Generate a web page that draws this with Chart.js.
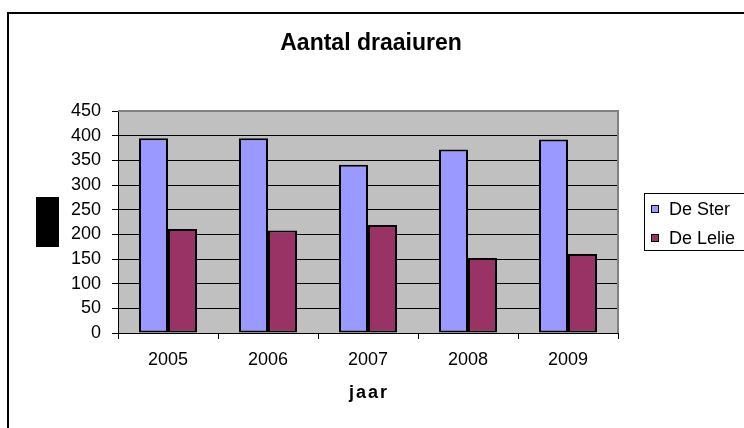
<!DOCTYPE html>
<html><head><meta charset="utf-8">
<script src="https://cdn.jsdelivr.net/npm/chart.js@4/dist/chart.umd.min.js"></script>
<style>html,body{margin:0;padding:0;background:#fff;}canvas{display:block;}</style>
</head><body>
<canvas id="c" width="744" height="428"></canvas>
<script>
const categories = ['2005', '2006', '2007', '2008', '2009'];
const deSter = [395, 395, 341, 372, 392];
const deLelie = [211, 208, 219, 152, 160];
const seriesNames = ['De Ster', 'De Lelie'];
const seriesColors = ['#9999FF', '#993366'];
const chartTitle = 'Aantal draaiuren';
const xTitle = 'jaar';
const yMin = 0, yMax = 450, yStep = 50;

const FONT = '"Liberation Sans", Arial, sans-serif';

const decor = {
  id: 'decor',
  beforeDraw(chart) {
    const {ctx, chartArea: a} = chart;
    ctx.save();
    ctx.fillStyle = '#fff';
    ctx.fillRect(0, 0, chart.width, chart.height);
    ctx.strokeStyle = '#000';
    ctx.lineWidth = 2;
    ctx.beginPath();
    ctx.moveTo(8, 440); ctx.lineTo(8, 13); ctx.lineTo(760, 13);
    ctx.stroke();
    ctx.fillStyle = '#C0C0C0';
    ctx.fillRect(a.left, a.top, a.right - a.left, a.bottom - a.top);
    ctx.restore();
  },
  afterDraw(chart) {
    const {ctx, chartArea: a} = chart;
    ctx.save();
    ctx.strokeStyle = '#808080';
    ctx.lineWidth = 2;
    ctx.beginPath();
    ctx.moveTo(a.left, a.top); ctx.lineTo(a.right, a.top); ctx.lineTo(a.right, a.bottom);
    ctx.stroke();
    // chart title
    ctx.fillStyle = '#000';
    ctx.font = 'bold 23px ' + FONT;
    ctx.textAlign = 'center';
    ctx.textBaseline = 'middle';
    ctx.fillText(chartTitle, (a.left + a.right) / 2 + 3, 44);
    // x-axis title (letter-spaced)
    ctx.font = 'bold 18px ' + FONT;
    if ('letterSpacing' in ctx) ctx.letterSpacing = '2px';
    ctx.fillText(xTitle, (a.left + a.right) / 2 + 1, 393);
    if ('letterSpacing' in ctx) ctx.letterSpacing = '0px';
    // redaction block (y-axis title area)
    ctx.fillRect(36, 197, 23, 50);
    // legend
    ctx.lineWidth = 1;
    ctx.strokeStyle = '#000';
    ctx.strokeRect(644.5, 193.5, 120, 57);
    ctx.font = '18px ' + FONT;
    ctx.textAlign = 'left';
    chart.data.datasets.forEach((ds, i) => {
      const y = 209 + i * 29;
      ctx.fillStyle = ds.backgroundColor;
      ctx.fillRect(651.5, y - 3.5, 7, 7);
      ctx.strokeRect(651.5, y - 3.5, 7, 7);
      ctx.fillStyle = '#000';
      ctx.fillText(ds.label, 669, y + 1);
    });
    ctx.restore();
  }
};

new Chart(document.getElementById('c'), {
  type: 'bar',
  data: {
    labels: categories,
    datasets: [
      {label: seriesNames[0], data: deSter, backgroundColor: seriesColors[0]},
      {label: seriesNames[1], data: deLelie, backgroundColor: seriesColors[1]}
    ]
  },
  options: {
    responsive: false,
    animation: false,
    layout: {padding: {left: 0, right: 126, top: 111, bottom: 25}},
    datasets: {bar: {barPercentage: 1, categoryPercentage: 0.58, borderColor: '#000', borderWidth: 2, borderSkipped: false}},
    plugins: {legend: {display: false}, title: {display: false}, tooltip: {enabled: false}},
    scales: {
      x: {
        afterFit(s) { s.height = 70; },
        grid: {offset: true, drawOnChartArea: false, drawTicks: true, tickLength: 6, tickColor: '#000'},
        border: {display: true, color: '#000', width: 1},
        ticks: {color: '#000', padding: 10, font: {family: FONT, size: 18}},
        title: {display: false}
      },
      y: {
        min: yMin, max: yMax,
        afterFit(s) { s.width = 118; },
        grid: {color: c => (c.tick && c.tick.value === yMax) ? 'rgba(0,0,0,0)' : '#000', tickColor: '#000', tickLength: 6, lineWidth: 1},
        border: {display: true, color: '#000', width: 1},
        ticks: {stepSize: yStep, color: '#000', padding: 11, font: {family: FONT, size: 18}}
      }
    }
  },
  plugins: [decor]
});
</script>
</body></html>
